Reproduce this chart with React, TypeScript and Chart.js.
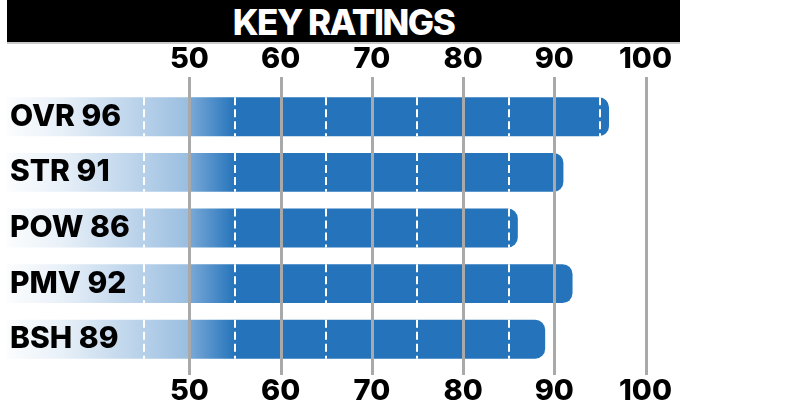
import React, { useEffect, useRef } from "react";
import { Chart, registerables } from "chart.js";

Chart.register(...registerables);

const TITLE = "KEY RATINGS";
const CATEGORIES = ["OVR", "STR", "POW", "PMV", "BSH"];
const VALUES = [96, 91, 86, 92, 89];
const TICKS = [50, 60, 70, 80, 90, 100];
const DASH_MARKS = [45, 55, 65, 75, 85, 95];
const AXIS_MIN = 30;
const AXIS_MAX = 104;
const GRADIENT_END = 55;

const BLUE = "#2574BB";
const GRID = "#A9A9A9";
const FONT = "Inter, Lato, 'Noto Sans', sans-serif";

// gradient colour stops, by axis value
const GRADIENT_STOPS: [number, string][] = [
  [30, "#FBFDFE"],
  [36, "#E8F0F8"],
  [45, "#B6D0E9"],
  [49.9, "#9ABEE0"],
  [50.1, "#79A8D7"],
  [55, BLUE],
];

const overlayPlugin = {
  id: "overlay",
  afterDatasetsDraw(chart: any) {
    const { ctx, chartArea } = chart;
    const xs = chart.scales.x;
    ctx.save();
    // white dashed half-step marks inside each bar
    const meta = chart.getDatasetMeta(0);
    ctx.strokeStyle = "#ffffff";
    ctx.lineWidth = 2;
    ctx.setLineDash([8, 4]);
    meta.data.forEach((bar: any, i: number) => {
      const { y, height } = bar.getProps(["y", "height"], true);
      DASH_MARKS.forEach((v) => {
        if (v < VALUES[i]) {
          const px = Math.round(xs.getPixelForValue(v));
          ctx.beginPath();
          ctx.moveTo(px, y - height / 2);
          ctx.lineTo(px, y + height / 2);
          ctx.stroke();
        }
      });
    });
    // grey major grid lines on top of the bars
    ctx.setLineDash([]);
    ctx.strokeStyle = GRID;
    ctx.lineWidth = 3;
    TICKS.forEach((v) => {
      const px = Math.round(xs.getPixelForValue(v)) + 0.5;
      ctx.beginPath();
      ctx.moveTo(px, chartArea.top - 12);
      ctx.lineTo(px, chartArea.bottom + 8);
      ctx.stroke();
    });
    ctx.restore();
  },
};

const tickFont = { family: FONT, size: 29, weight: "800", lineHeight: 1 };
const labelFont = { family: FONT, size: 30, weight: "800", lineHeight: 1 };

function xAxis(position: "top" | "bottom", padding: number, height: number) {
  return {
    type: "linear",
    position,
    min: AXIS_MIN,
    max: AXIS_MAX,
    afterBuildTicks: (axis: any) => {
      axis.ticks = TICKS.map((v) => ({ value: v }));
    },
    afterFit: (axis: any) => {
      axis.height = height;
    },
    grid: { display: false, drawTicks: false },
    border: { display: false },
    ticks: {
      autoSkip: false,
      maxRotation: 0,
      padding,
      color: "#000000",
      font: tickFont,
    },
  };
}

export default function App() {
  const canvasRef = useRef<HTMLCanvasElement | null>(null);

  useEffect(() => {
    if (!canvasRef.current) return;
    const chart = new Chart(canvasRef.current, {
      type: "bar",
      data: {
        labels: CATEGORIES,
        datasets: [
          {
            data: VALUES,
            base: AXIS_MIN,
            borderRadius: 10,
            borderSkipped: "start",
            barPercentage: 0.7,
            categoryPercentage: 1,
            backgroundColor: (c: any) => {
              const ch = c.chart;
              const area = ch.chartArea;
              if (!area) return BLUE;
              const xs = ch.scales.x;
              const x0 = xs.getPixelForValue(AXIS_MIN);
              const x1 = xs.getPixelForValue(GRADIENT_END);
              const g = ch.ctx.createLinearGradient(x0, 0, x1, 0);
              GRADIENT_STOPS.forEach(([v, col]) => {
                const f = (xs.getPixelForValue(v) - x0) / (x1 - x0);
                g.addColorStop(Math.min(1, Math.max(0, f)), col);
              });
              return g;
            },
          } as any,
        ],
      },
      options: {
        indexAxis: "y",
        responsive: false,
        animation: false,
        devicePixelRatio: 1,
        layout: { padding: { left: 7, right: 103, top: 43, bottom: 0 } },
        plugins: {
          legend: { display: false },
          tooltip: { enabled: false },
          title: { display: false },
        },
        scales: {
          x: xAxis("top", 15, 46),
          x2: xAxis("bottom", 10, 48),
          y: {
            type: "category",
            grid: { display: false, drawTicks: false },
            border: { display: false },
            afterFit: (axis: any) => {
              axis.width = 0;
            },
            ticks: {
              z: 2,
              mirror: true,
              padding: 3,
              color: "#000000",
              font: labelFont,
              callback: (_v: any, i: number) => `${CATEGORIES[i]} ${VALUES[i]}`,
            },
          },
        } as any,
      },
      plugins: [overlayPlugin],
    } as any);
    return () => chart.destroy();
  }, []);

  return (
    <div style={{ position: "absolute", left: 0, top: 0, width: 785, height: 415, background: "#ffffff" }}>
      <canvas ref={canvasRef} width={785} height={415} style={{ position: "absolute", left: 0, top: 0 }} />
      <div
        style={{
          position: "absolute",
          left: 7,
          top: 0,
          width: 673,
          height: 42,
          background: "#000000",
          borderBottom: "2px solid #C9C9C9",
          color: "#ffffff",
          fontFamily: FONT,
          fontWeight: 800,
          fontSize: 35,
          letterSpacing: "-1.5px",
          lineHeight: "44px",
          textAlign: "center",
          whiteSpace: "nowrap",
        }}
      >
        {TITLE}
      </div>
    </div>
  );
}
